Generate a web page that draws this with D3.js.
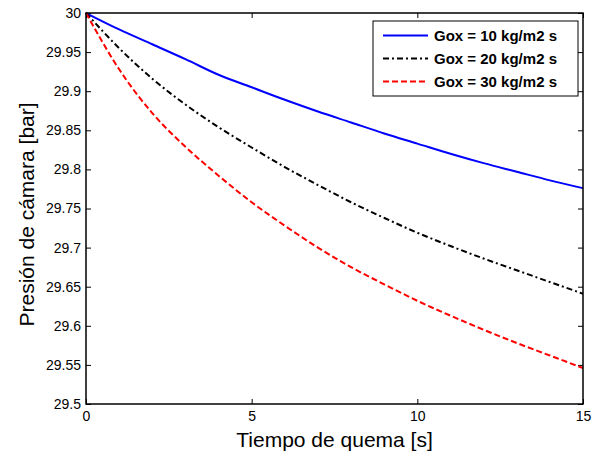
<!DOCTYPE html>
<html>
<head>
<meta charset="utf-8">
<script src="https://cdn.jsdelivr.net/npm/d3@7"></script>
<style>
  body { margin: 0; background: #fff; }
  svg { font-family: "Liberation Sans", Arial, sans-serif; }
</style>
</head>
<body>
<div id="chart"></div>
<script>
// time in seconds
const tiempo = [0, 1, 2, 3, 4, 5, 6, 7, 8, 9, 10, 11, 12, 13, 14, 15];
// chamber pressure [bar] per oxidizer flux
const gox10 = [30.000, 29.979, 29.960, 29.941, 29.921, 29.905, 29.889, 29.874, 29.860, 29.846, 29.833, 29.820, 29.808, 29.797, 29.786, 29.776];
const gox20 = [30.000, 29.955, 29.916, 29.883, 29.854, 29.828, 29.803, 29.780, 29.758, 29.738, 29.719, 29.702, 29.686, 29.671, 29.656, 29.641];
const gox30 = [30.000, 29.928, 29.872, 29.829, 29.792, 29.758, 29.728, 29.700, 29.675, 29.653, 29.632, 29.613, 29.595, 29.578, 29.562, 29.546];
const seriesNames = ["Gox = 10 kg/m2 s", "Gox = 20 kg/m2 s", "Gox = 30 kg/m2 s"];
const xTicks = [0, 5, 10, 15];
const yTicks = [29.5, 29.55, 29.6, 29.65, 29.7, 29.75, 29.8, 29.85, 29.9, 29.95, 30];

const width = 601, height = 456;
const margin = {top: 13, right: 18, bottom: 52, left: 86};
const innerW = width - margin.left - margin.right;
const innerH = height - margin.top - margin.bottom;

const series = [
    {name: seriesNames[0], values: gox10, color: "#0000ff", dash: null},
    {name: seriesNames[1], values: gox20, color: "#000000", dash: "6,3,2,3"},
    {name: seriesNames[2], values: gox30, color: "#ff0000", dash: "6,3"}
];

const x = d3.scaleLinear().domain([0, 15]).range([0, innerW]);
const y = d3.scaleLinear().domain([29.5, 30]).range([innerH, 0]);

const svg = d3.select("#chart").append("svg")
    .attr("width", width)
    .attr("height", height);

const g = svg.append("g")
    .attr("transform", `translate(${margin.left},${margin.top})`);

// axes with inward ticks (matlab style)
const tickLen = 5;
g.append("g")
    .attr("transform", `translate(0,${innerH})`)
    .call(d3.axisBottom(x).tickValues(xTicks).tickSizeInner(-tickLen).tickSizeOuter(0).tickPadding(7))
    .call(a => a.select(".domain").remove());
g.append("g")
    .call(d3.axisTop(x).tickValues(xTicks).tickSizeInner(-tickLen).tickSizeOuter(0).tickFormat(""))
    .call(a => a.select(".domain").remove());
g.append("g")
    .call(d3.axisLeft(y).tickValues(yTicks).tickSizeInner(-tickLen).tickSizeOuter(0).tickPadding(5).tickFormat(d3.format("")))
    .call(a => a.select(".domain").remove());
g.append("g")
    .attr("transform", `translate(${innerW},0)`)
    .call(d3.axisRight(y).tickValues(yTicks).tickSizeInner(-tickLen).tickSizeOuter(0).tickFormat(""))
    .call(a => a.select(".domain").remove());

g.selectAll(".tick line").attr("stroke", "#000").attr("stroke-width", 1);
g.selectAll(".tick text")
    .attr("fill", "#000")
    .style("font-family", "Liberation Sans, Arial, sans-serif")
    .style("font-size", "14px");

// lines
const line = d3.line()
    .x((d, i) => x(tiempo[i]))
    .y(d => y(d))
    .curve(d3.curveMonotoneX);

g.selectAll(".series")
    .data(series)
    .enter()
    .append("path")
    .attr("class", "series")
    .attr("fill", "none")
    .attr("stroke", d => d.color)
    .attr("stroke-width", 2)
    .attr("stroke-dasharray", d => d.dash)
    .attr("d", d => line(d.values));

// box
g.append("rect")
    .attr("width", innerW)
    .attr("height", innerH)
    .attr("fill", "none")
    .attr("stroke", "#000")
    .attr("stroke-width", 1.5);

// axis labels
svg.append("text")
    .attr("x", margin.left + innerW / 2)
    .attr("y", 447)
    .attr("text-anchor", "middle")
    .style("font-size", "21px")
    .text("Tiempo de quema [s]");

svg.append("text")
    .attr("transform", `translate(34,${margin.top + innerH / 2 + 6}) rotate(-90)`)
    .attr("text-anchor", "middle")
    .style("font-size", "21px")
    .text("Presión de cámara [bar]");

// legend
const legend = g.append("g").attr("transform", `translate(${373 - margin.left},${21 - margin.top})`);
legend.append("rect")
    .attr("width", 205)
    .attr("height", 75)
    .attr("fill", "#fff")
    .attr("stroke", "#000")
    .attr("stroke-width", 1);

const rows = legend.selectAll(".legend-row")
    .data(series)
    .enter()
    .append("g")
    .attr("class", "legend-row")
    .attr("transform", (d, i) => `translate(0,${14.5 + i * 23})`);

rows.append("line")
    .attr("x1", 10).attr("x2", 55)
    .attr("stroke", d => d.color)
    .attr("stroke-width", 2)
    .attr("stroke-dasharray", d => d.dash);

rows.append("text")
    .attr("x", 61)
    .attr("dy", "0.36em")
    .style("font-size", "15px")
    .style("font-weight", "bold")
    .text(d => d.name);
</script>
</body>
</html>
